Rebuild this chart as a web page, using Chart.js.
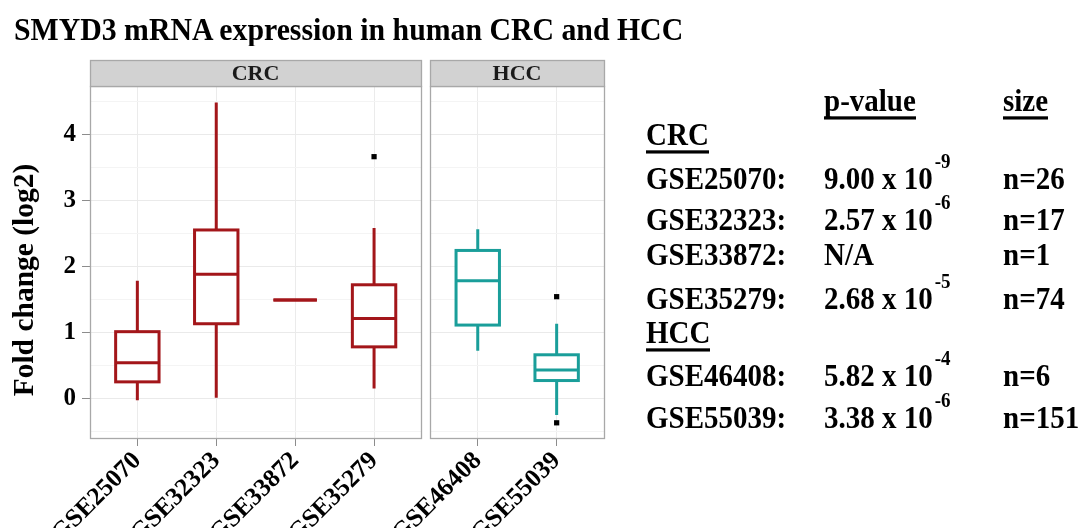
<!DOCTYPE html>
<html><head><meta charset="utf-8">
<script src="https://cdn.jsdelivr.net/npm/chart.js@4.4.0/dist/chart.umd.min.js"></script>
<style>
html,body{margin:0;padding:0;background:#fff;}
#wrap{position:relative;width:1082px;height:528px;overflow:hidden;background:#fff;}
#c{position:absolute;left:0;top:0;}
.t{position:absolute;font-family:"Liberation Serif","Times New Roman",serif;font-weight:bold;color:#000;white-space:nowrap;}
.u{display:inline-block;border-bottom:3px solid #000;}
</style></head>
<body><div id="wrap"><canvas id="c" width="1082" height="528"></canvas></div>
<script>
// ---------- data ----------
const chartTitle = 'SMYD3 mRNA expression in human CRC and HCC';
const yAxisTitle = 'Fold change (log2)';
const panels = ['CRC', 'HCC'];
const categories = ['GSE25070', 'GSE32323', 'GSE33872', 'GSE35279', 'GSE46408', 'GSE55039'];
const panelOf = ['CRC', 'CRC', 'CRC', 'CRC', 'HCC', 'HCC'];
const whiskerLow  = [-0.03, 0.01, 1.49, 0.15, 0.72, -0.25];
const q1          = [0.25, 1.13, 1.49, 0.78, 1.11, 0.27];
const median      = [0.54, 1.88, 1.49, 1.21, 1.78, 0.43];
const q3          = [1.01, 2.55, 1.49, 1.72, 2.24, 0.66];
const whiskerHigh = [1.78, 4.48, 1.49, 2.58, 2.56, 1.13];
const outlierCat = ['GSE35279', 'GSE55039', 'GSE55039'];
const outlierVal = [3.66, 1.54, -0.37];
const yTicks = [0, 1, 2, 3, 4];
const yMinorTicks = [-0.5, 0.5, 1.5, 2.5, 3.5, 4.5];
const yRange = [-0.6, 4.73];

const tableHeader = ['p-value', 'size'];
const tableGroups = ['CRC', 'HCC'];
const tableIds = ['GSE25070:', 'GSE32323:', 'GSE33872:', 'GSE35279:', 'GSE46408:', 'GSE55039:'];
const pMantissa = ['9.00 x 10', '2.57 x 10', 'N/A', '2.68 x 10', '5.82 x 10', '3.38 x 10'];
const pExponent = ['-9', '-6', '', '-5', '-4', '-6'];
const sampleSizes = ['n=26', 'n=17', 'n=1', 'n=74', 'n=6', 'n=151'];

// ---------- style / layout ----------
const panelColor = { CRC: '#A3161A', HCC: '#1A9E9A' };
const EXPAND = 0.6, GAP = 0.114, BOX_W = 0.55;
const SERIF = '"Liberation Serif", "Times New Roman", serif';

// panel ranges on a shared linear x scale
const panelRange = [];
const xPos = [];
(function () {
  let start = 1 - EXPAND;
  panels.forEach(p => {
    const idx = categories.map((c, i) => i).filter(i => panelOf[i] === p);
    idx.forEach((i, j) => { xPos[i] = start + EXPAND + j; });
    const end = start + (idx.length - 1) + 2 * EXPAND;
    panelRange.push([start, end]);
    start = end + GAP;
  });
})();

const facetPlugin = {
  id: 'facets',
  beforeDatasetsDraw(chart) {
    const { ctx, chartArea: a, scales: { x, y } } = chart;
    ctx.save();
    for (let p = 0; p < panelRange.length - 1; p++) {
      const r = x.getPixelForValue(panelRange[p][1]);
      const l = x.getPixelForValue(panelRange[p + 1][0]);
      ctx.fillStyle = '#fff';
      ctx.fillRect(r, a.top, l - r, a.bottom - a.top);
    }
    panels.forEach((p, k) => {
      const l = Math.round(x.getPixelForValue(panelRange[k][0]));
      const r = Math.round(x.getPixelForValue(panelRange[k][1]));
      ctx.lineWidth = 1.3;
      ctx.strokeStyle = '#A8A8A8';
      ctx.strokeRect(l + 0.5, a.top + 0.5, r - l, a.bottom - a.top);
      ctx.fillStyle = '#D2D2D2';
      ctx.fillRect(l, a.top - 26, r - l + 1, 26);
      ctx.strokeStyle = '#A8A8A8';
      ctx.strokeRect(l + 0.5, a.top - 26 + 0.5, r - l, 26);
      ctx.fillStyle = '#1a1a1a';
      ctx.font = 'bold 22px ' + SERIF;
      ctx.textAlign = 'center';
      ctx.textBaseline = 'alphabetic';
      ctx.fillText(p, (l + r) / 2, a.top - 6);
    });
    categories.forEach((c, i) => {
      const col = panelColor[panelOf[i]];
      const cx = x.getPixelForValue(xPos[i]);
      const l = x.getPixelForValue(xPos[i] - BOX_W / 2);
      const r = x.getPixelForValue(xPos[i] + BOX_W / 2);
      const yq1 = y.getPixelForValue(q1[i]), yq3 = y.getPixelForValue(q3[i]);
      const ym = y.getPixelForValue(median[i]);
      const ylo = y.getPixelForValue(whiskerLow[i]), yhi = y.getPixelForValue(whiskerHigh[i]);
      ctx.strokeStyle = col;
      ctx.lineWidth = 3;
      ctx.beginPath();
      ctx.moveTo(cx, yq3); ctx.lineTo(cx, yhi);
      ctx.moveTo(cx, yq1); ctx.lineTo(cx, ylo);
      ctx.stroke();
      ctx.fillStyle = '#fff';
      if (yq1 - yq3 > 0) ctx.fillRect(l, yq3, r - l, yq1 - yq3);
      ctx.strokeRect(l, yq3, r - l, yq1 - yq3);
      ctx.beginPath();
      ctx.moveTo(l, ym); ctx.lineTo(r, ym);
      ctx.stroke();
    });
    ctx.restore();
  },
  afterDraw(chart) {
    const { ctx } = chart;
    ctx.save();
    ctx.translate(33, 280);
    ctx.rotate(-Math.PI / 2);
    ctx.font = 'bold 29.5px ' + SERIF;
    ctx.fillStyle = '#000';
    ctx.textAlign = 'center';
    ctx.textBaseline = 'alphabetic';
    ctx.fillText(yAxisTitle, 0, 0);
    ctx.restore();
  }
};

new Chart(document.getElementById('c'), {
  type: 'scatter',
  data: {
    datasets: [{
      label: 'outliers',
      data: outlierCat.map((c, i) => ({ x: xPos[categories.indexOf(c)], y: outlierVal[i] })),
      pointStyle: 'rect',
      radius: 3.7,
      backgroundColor: '#000',
      borderWidth: 0
    }]
  },
  options: {
    responsive: false,
    animation: false,
    events: [],
    layout: { padding: { top: 86, right: 478, left: 0, bottom: 0 } },
    plugins: { legend: { display: false }, tooltip: { enabled: false }, title: { display: false } },
    scales: {
      x: {
        type: 'linear',
        min: panelRange[0][0],
        max: panelRange[panelRange.length - 1][1],
        afterBuildTicks(s) { s.ticks = xPos.map(v => ({ value: v })); },
        afterFit(s) { s.height = 90; },
        border: { display: false },
        grid: { color: '#EBEBEB', lineWidth: 1, tickColor: '#8C8C8C', tickLength: 8 },
        ticks: {
          autoSkip: false, minRotation: 45, maxRotation: 45, padding: 0,
          color: '#000', font: { family: SERIF, weight: 'bold', size: 25.5 },
          callback: (v, i) => categories[i]
        }
      },
      y: {
        type: 'linear',
        min: yRange[0], max: yRange[1],
        afterBuildTicks(s) {
          s.ticks = yMinorTicks.map(v => ({ value: v, minor: true }))
            .concat(yTicks.map(v => ({ value: v, minor: false })))
            .sort((a, b) => a.value - b.value);
        },
        afterFit(s) { s.width = 90; },
        border: { display: false },
        grid: {
          color: c => (c.tick && c.tick.minor) ? '#F4F4F4' : '#EAEAEA',
          tickColor: c => (c.tick && c.tick.minor) ? 'rgba(0,0,0,0)' : '#8C8C8C',
          lineWidth: 1, tickLength: 8
        },
        ticks: {
          autoSkip: false, padding: 6, color: '#000',
          font: { family: SERIF, weight: 'bold', size: 25 },
          callback: function (v, i, ticks) { return ticks[i].minor ? '' : String(v); }
        }
      }
    }
  },
  plugins: [facetPlugin]
});

// ---------- HTML text: title and table ----------
const wrap = document.getElementById('wrap');
function place(html, x, baseline, size, sy) {
  const d = document.createElement('div');
  d.className = 't';
  d.style.left = x + 'px';
  d.style.fontSize = size + 'px';
  d.style.lineHeight = size + 'px';
  d.style.top = (baseline - 0.8375 * size) + 'px';
  d.style.transformOrigin = '0 ' + (0.8375 * size) + 'px';
  d.style.transform = 'scaleY(' + (sy || 1.07) + ')';
  d.innerHTML = html;
  wrap.appendChild(d);
  return d;
}
place(chartTitle, 14, 40, 29.8, 1.06);

const COL = [646, 824, 1003];
const FS = 29;
place('<span class="u">' + tableHeader[0] + '</span>', COL[1], 111.7, FS);
place('<span class="u">' + tableHeader[1] + '</span>', COL[2], 111.7, FS);
const groupBaselines = [145, 343.3];
const rowBaselines = [189, 230, 265.7, 309.3, 386.7, 428.3];
tableGroups.forEach((g, k) => place('<span class="u">' + g + '</span>', COL[0], groupBaselines[k], FS));
tableIds.forEach((id, i) => {
  place(id, COL[0], rowBaselines[i], FS);
  const sup = pExponent[i] ? '<span style="font-size:19px;position:relative;top:-20px;margin-left:2px">' + pExponent[i] + '</span>' : '';
  place(pMantissa[i] + sup, COL[1], rowBaselines[i], FS);
  place(sampleSizes[i], COL[2], rowBaselines[i], FS);
});
</script>
</body></html>
